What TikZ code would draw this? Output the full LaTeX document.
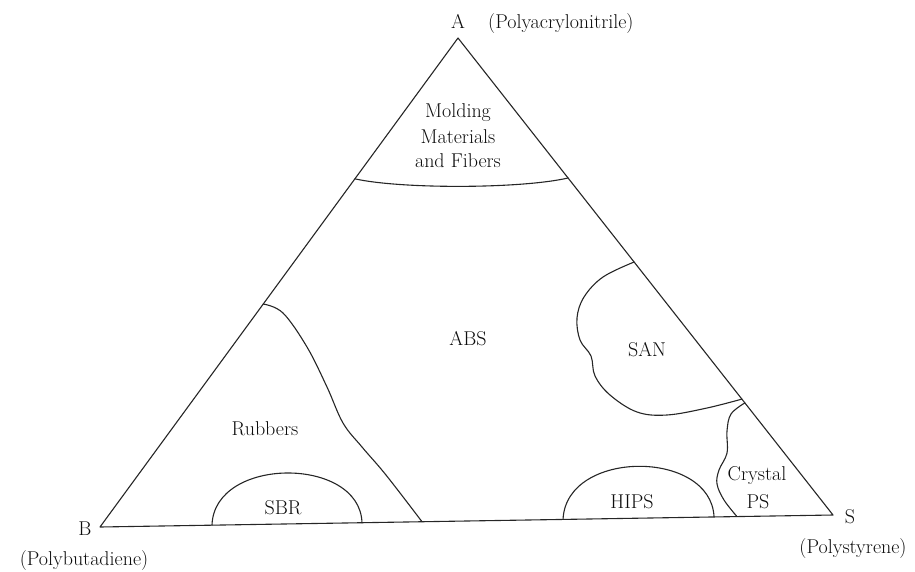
\documentclass[tikz,border=0pt]{standalone}
\usepackage{fontspec}
\usetikzlibrary{calc}
\begin{document}
\begin{tikzpicture}[x=1pt,y=-1pt,
  every node/.style={text=black!95, font=\fontsize{20}{25}\selectfont, inner sep=0pt},
  lbl/.style={anchor=base},
  bnd/.style={draw=black!85, line width=1.1pt, line join=round, line cap=round}]
\useasboundingbox (0,0) rectangle (915,571);
% vertices
\coordinate (A) at (458,38);
\coordinate (B) at (100,527);
\coordinate (S) at (833,515);
\draw[bnd] (A) -- (B) -- (S) -- cycle;
% boundary end points
\coordinate (m0) at ($(A)!0.288!(B)$);
\coordinate (m1) at ($(A)!0.2935!(S)$);
\coordinate (san0) at ($(A)!0.4696!(S)$);
\coordinate (san1) at ($(A)!0.757!(S)$);
\coordinate (cr0) at ($(A)!0.765!(S)$);
\coordinate (cr1) at ($(B)!0.869!(S)$);
\coordinate (r0) at ($(A)!0.544!(B)$);
\coordinate (r1) at ($(B)!0.4393!(S)$);
\coordinate (sbr0) at ($(B)!0.1528!(S)$);
\coordinate (sbr1) at ($(B)!0.3574!(S)$);
\coordinate (hips0) at ($(B)!0.6317!(S)$);
\coordinate (hips1) at ($(B)!0.8377!(S)$);
% region boundaries
\draw[bnd] (m0) .. controls (400,189) and (520,189) .. (m1);
\draw[bnd] plot[smooth, tension=0.6] coordinates {(san0) (603,277) (584,297) (577,318) (580,340) (591,356) (595,376) (610,395) (637,412) (667,415) (707,408) (san1)};
\draw[bnd] plot[smooth, tension=0.6] coordinates {(cr0) (731,414) (727,431) (727,453) (719,470) (717,484) (724,500) (cr1)};
\draw[bnd] plot[smooth, tension=0.6] coordinates {(r0) (283,313) (307,347) (327,387) (343,423) (362,447) (386,475) (r1)};
\draw[bnd] (sbr0) .. controls (214,456) and (360,456) .. (sbr1);
\draw[bnd] (hips0) .. controls (566,449) and (711,449) .. (hips1);
% labels
\node[lbl] (la) at (458,28) {A};
\node[lbl, anchor=base west] (lpan) at (488,28) {(Polyacrylonitrile)};
\node[lbl] (lb) at (85,535) {B};
\node[lbl] (lpb) at (84,565) {(Polybutadiene)};
\node[lbl] (ls) at (850,523) {S};
\node[lbl] (lps) at (853,553) {(Polystyrene)};
\node[lbl] (mold1) at (458,117) {Molding};
\node[lbl] (mold2) at (458,143) {Materials};
\node[lbl] (mold3) at (458,167) {and Fibers};
\node[lbl] (abs) at (468,345) {ABS};
\node[lbl] (san) at (647,356) {SAN};
\node[lbl] (rub) at (265,435) {Rubbers};
\node[lbl] (sbr) at (283,514) {SBR};
\node[lbl] (hips) at (632,508) {HIPS};
\node[lbl] (cry1) at (757,480) {Crystal};
\node[lbl] (cry2) at (758,508) {PS};
\end{tikzpicture}
\end{document}
